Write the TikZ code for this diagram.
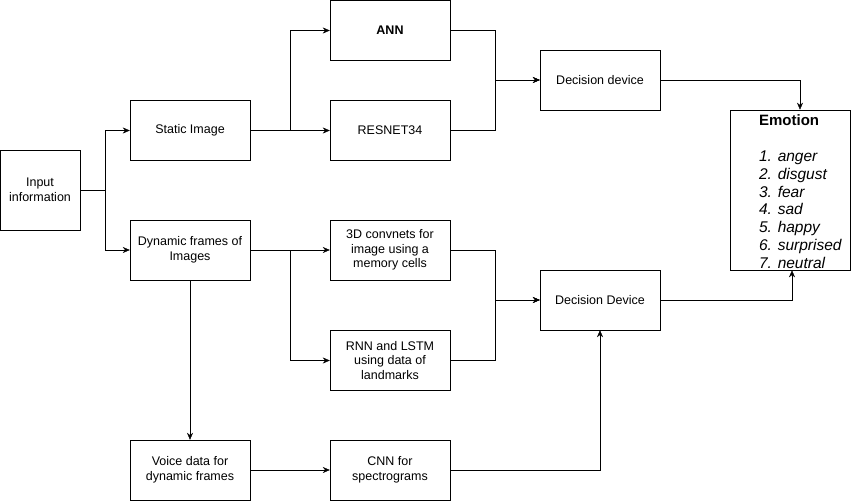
\documentclass[tikz,border=0pt]{standalone}
\usepackage{fontspec}
\setmainfont{Liberation Sans}
\usetikzlibrary{arrows.meta}
\tikzset{
    block/.style = {draw, thin, rectangle, minimum width=120pt, minimum height=60pt, align=center, inner sep=2pt, font=\fontsize{12.5}{14.5}\selectfont},
    emotion-box/.style = {draw, thin, rectangle, minimum width=120pt, minimum height=160pt, inner sep=0pt},
    link/.style = {draw, thin, -{Stealth[length=7pt,width=6pt]}},
}

\begin{document}
\begin{tikzpicture}[x=1pt, y=-1pt]
\useasboundingbox (0,0) rectangle (851,501);
% first column
\node[block, minimum width=80pt, minimum height=80pt] (input) at (40,190) {Input\\information};
\node[block] (static) at (190,130.5) {Static Image};
\node[block] (dynamic) at (190,250) {Dynamic frames of\\Images};
\node[block] (voice) at (190,470) {Voice data for\\dynamic frames};
% networks
\node[block] (ann) at (390,30.5) {\textbf{ANN}};
\node[block] (resnet) at (390,130.5) {RESNET34};
\node[block] (convnet) at (390,250) {3D convnets for\\image using a\\memory cells};
\node[block] (rnn) at (390,360.5) {RNN and LSTM\\using data of\\landmarks};
\node[block] (cnn) at (390,470) {CNN for\\spectrograms};
% decisions
\node[block] (decision-a) at (600,80) {Decision device};
\node[block] (decision-b) at (600,300) {Decision Device};
\node[emotion-box] (emotion) at (790,190) {\fontsize{15.5}{17.8}\selectfont
    \raisebox{-3.5pt}[\height][\depth]{\begin{tabular}{@{\hspace{21pt}}l@{}}
    \textbf{\fontsize{15}{17.8}\selectfont Emotion}\\
    \\
    \textit{1. anger}\\
    \textit{2. disgust}\\
    \textit{3. fear}\\
    \textit{4. sad}\\
    \textit{5. happy}\\
    \textit{6. surprised}\\
    \textit{7. neutral}
    \end{tabular}}};
% connectors
\draw[link] (input.east) -- ++(25,0) |- (static.west);
\draw[link] (input.east) -- ++(25,0) |- (dynamic.west);
\draw[link] (static.east) -- ++(40,0) |- (ann.west);
\draw[link] (static.east) -- (resnet.west);
\draw[link] (ann.east) -- ++(45,0) |- (decision-a.west);
\draw[link] (resnet.east) -- ++(45,0) |- (decision-a.west);
\draw[link] (decision-a.east) -| ([xshift=10pt]emotion.north);
\draw[link] (dynamic.east) -- (convnet.west);
\draw[link] (dynamic.east) -- ++(40,0) |- (rnn.west);
\draw[link] (convnet.east) -- ++(45,0) |- (decision-b.west);
\draw[link] (rnn.east) -- ++(45,0) |- (decision-b.west);
\draw[link] (decision-b.east) -| ([xshift=2pt]emotion.south);
\draw[link] (dynamic.south) -- (voice.north);
\draw[link] (voice.east) -- (cnn.west);
\draw[link] (cnn.east) -| (decision-b.south);
\end{tikzpicture}
\end{document}
